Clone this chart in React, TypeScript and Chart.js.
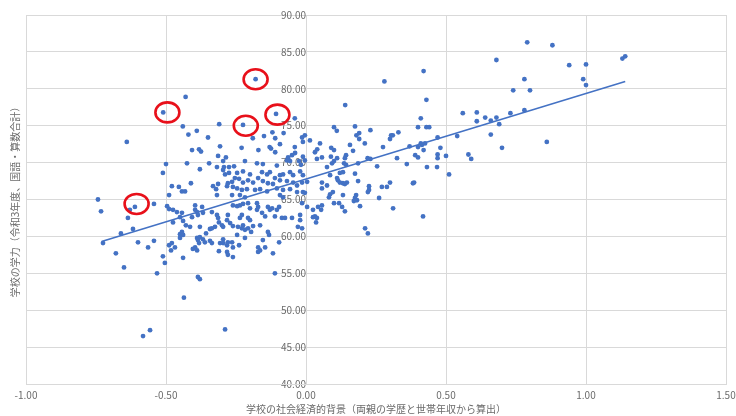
import React, { useEffect, useRef } from 'react';
import { Chart, registerables } from 'chart.js';

Chart.register(...registerables);

// 学校の社会経済的背景 (x) と 学校の学力 (y)
const sesX = [
  0.79, 0.88, 0.68, 1.13, 1.14, 0.94, 1.0, 0.42, 0.28, 0.78, 0.99, 1.0, -0.18, 0.74, 0.8, -0.43,
  0.43, 0.14, 0.56, 0.61, 0.64, 0.66, 0.68, 0.73, 0.78, 0.61, 0.69, 0.66, 0.54, 0.47, 0.41, 0.4,
  0.43, 0.44, 0.33, 0.31, 0.3, 0.23, 0.19, 0.175, 0.1, 0.11, 0.18, -0.51, -0.107, -0.225, -0.04, -0.44,
  -0.31, -0.42, -0.39, -0.35, -0.19, -0.15, -0.12, -0.11, -0.08, -0.014, -0.004, -0.64, 0.48, 0.41, 0.414, 0.425,
  0.4, 0.42, 0.37, 0.275, 0.21, 0.19, 0.157, 0.1, 0.09, 0.05, 0.04, 0.86, 0.7, 0.58, 0.59, 0.5,
  0.47, 0.47, 0.39, 0.4, 0.325, 0.36, 0.23, 0.22, 0.143, 0.139, 0.168, 0.057, 0.039, 0.136, 0.143, 0.186,
  0.254, 0.093, 0.1, 0.075, -0.23, -0.17, -0.13, -0.125, -0.093, -0.04, -0.011, -0.11, -0.064, -0.05, -0.039, -0.068,
  -0.057, -0.218, -0.175, -0.154, -0.104, -0.025, -0.018, -0.307, -0.407, -0.382, -0.375, -0.314, -0.286, -0.296, -0.5, -0.425,
  -0.346, -0.379, -0.318, -0.293, -0.275, -0.257, -0.296, -0.511, -0.289, -0.275, -0.254, -0.225, -0.246, -0.2, -0.157, -0.139,
  -0.129, -0.093, -0.082, -0.057, -0.046, -0.021, -0.011, -0.111, -0.093, -0.068, -0.239, -0.225, -0.207, -0.189, -0.171, -0.154,
  -0.136, -0.118, -0.046, -0.032, -0.014, -0.246, -0.229, -0.211, -0.182, -0.164, -0.139, -0.104, -0.082, -0.057, -0.032, -0.264,
  -0.236, -0.218, -0.093, -0.082, -0.279, -0.264, -0.261, -0.282, -0.332, -0.314, -0.321, -0.411, -0.479, -0.454, -0.443, -0.432,
  -0.489, -0.318, 0.057, 0.075, 0.111, 0.114, 0.121, 0.132, 0.146, 0.139, 0.186, 0.225, 0.225, 0.221, 0.271, 0.289,
  0.3, 0.382, 0.386, 0.511, 0.432, 0.468, 0.057, 0.086, 0.096, 0.082, 0.121, 0.132, 0.086, 0.132, 0.179, 0.175,
  0.171, 0.182, 0.261, -0.743, 0.1, 0.139, 0.193, 0.129, 0.118, 0.311, 0.418, 0.211, 0.221, 0.004, 0.025, 0.054,
  0.057, 0.036, 0.032, -0.014, 0.043, 0.025, -0.021, -0.029, -0.021, -0.261, -0.246, -0.236, -0.225, -0.207, -0.2, -0.175,
  -0.171, -0.175, -0.136, -0.129, -0.121, -0.157, -0.146, -0.104, -0.096, -0.111, -0.086, -0.075, -0.05, -0.229, -0.236, -0.207,
  -0.2, -0.271, -0.261, -0.243, -0.229, -0.225, -0.218, -0.207, -0.196, -0.189, -0.164, -0.246, -0.218, -0.154, -0.136, -0.132,
  -0.264, -0.261, -0.239, -0.171, -0.164, -0.171, -0.146, -0.096, -0.118, -0.261, -0.111, -0.543, -0.629, -0.618, -0.611, -0.496,
  -0.489, -0.475, -0.461, -0.443, -0.45, -0.475, -0.439, -0.429, -0.414, -0.407, -0.396, -0.389, -0.386, -0.371, -0.368, -0.396,
  -0.379, -0.343, -0.336, -0.318, -0.314, -0.311, -0.3, -0.296, -0.282, -0.279, -0.357, -0.336, -0.325, -0.732, -0.661, -0.725,
  -0.679, -0.65, -0.636, -0.6, -0.564, -0.543, -0.532, -0.511, -0.504, -0.582, -0.557, -0.489, -0.479, -0.468, -0.45, -0.443,
  -0.439, -0.45, -0.482, -0.389, -0.386, -0.382, -0.379, -0.368, -0.361, -0.396, -0.404, -0.389, -0.343, -0.336, -0.307, -0.296,
  -0.282, -0.279, -0.282, -0.311, -0.279, -0.439, -0.386, -0.379, -0.436, -0.289, 0.039, -0.296, 0.014, -0.011, -0.004, 0.004,
  -0.011, -0.004, -0.014, 0.032, 0.089, 0.111, 0.175, 0.304,
];

const scoreY = [
  86.3, 85.9, 83.9, 84.1, 84.4, 83.2, 83.3, 82.4, 81.0, 81.3, 81.3, 80.5, 81.3, 79.8, 79.8, 78.9,
  78.5, 77.8, 76.7, 76.8, 76.1, 75.7, 76.1, 76.7, 77.1, 75.6, 75.2, 73.8, 73.6, 73.4, 76.0, 74.8,
  74.8, 74.8, 74.1, 73.7, 73.2, 74.4, 74.0, 74.9, 74.8, 74.3, 73.7, 76.8, 76.6, 75.1, 76.0, 74.9,
  75.2, 73.8, 74.3, 73.4, 73.3, 73.6, 74.1, 73.3, 74.0, 73.4, 73.7, 72.8, 72.0, 72.6, 72.4, 72.6,
  72.1, 71.7, 72.2, 72.1, 72.6, 73.2, 72.4, 71.7, 72.0, 72.6, 71.8, 72.8, 72.0, 71.1, 70.5, 70.9,
  71.1, 70.6, 71.0, 70.7, 70.6, 69.8, 70.5, 70.6, 71.0, 70.6, 71.6, 70.7, 70.5, 69.9, 69.7, 69.9,
  69.5, 69.9, 70.2, 69.4, 72.0, 71.7, 72.1, 71.9, 72.5, 72.1, 72.8, 71.4, 70.7, 71.0, 71.3, 70.3,
  70.2, 70.2, 69.9, 69.8, 69.6, 70.2, 69.7, 72.2, 71.7, 71.8, 71.5, 70.9, 70.7, 70.2, 69.8, 69.9,
  69.9, 69.1, 69.4, 69.4, 69.4, 69.5, 69.0, 68.6, 68.4, 68.6, 67.9, 68.8, 68.6, 68.4, 68.7, 68.4,
  68.7, 68.3, 68.4, 68.7, 68.3, 68.8, 68.3, 67.9, 67.6, 67.5, 67.8, 67.3, 67.6, 67.3, 67.9, 67.5,
  67.2, 67.1, 67.3, 66.9, 67.3, 66.5, 66.3, 66.4, 66.3, 66.4, 66.1, 66.5, 66.3, 66.4, 66.0, 65.6,
  65.6, 65.3, 65.6, 65.3, 67.2, 67.4, 66.7, 66.8, 66.8, 67.1, 66.4, 67.2, 66.8, 66.7, 66.1, 66.1,
  65.6, 65.6, 67.3, 66.9, 67.9, 67.6, 67.3, 67.2, 67.3, 67.1, 67.5, 66.8, 66.3, 66.0, 66.7, 66.7,
  67.3, 67.2, 67.3, 68.4, 69.4, 69.4, 66.5, 65.7, 66.0, 65.3, 68.6, 68.7, 68.3, 65.6, 65.6, 65.2,
  64.8, 64.9, 65.2, 65.0, 64.5, 63.4, 64.1, 64.0, 64.5, 63.8, 62.7, 61.1, 60.4, 64.0, 63.6, 63.6,
  64.2, 61.9, 62.7, 64.5, 64.0, 62.6, 62.2, 61.3, 62.9, 64.2, 64.1, 64.2, 64.4, 64.5, 63.8, 64.5,
  64.0, 63.6, 64.0, 63.6, 63.8, 63.2, 62.7, 63.6, 64.0, 62.7, 62.5, 62.5, 62.5, 62.9, 62.5, 62.5,
  62.2, 61.8, 61.4, 61.3, 61.1, 61.5, 60.9, 61.1, 60.6, 61.4, 61.5, 60.2, 59.8, 59.5, 60.6, 60.2,
  59.2, 58.5, 58.8, 58.5, 58.1, 57.9, 58.5, 59.2, 57.7, 57.2, 55.0, 64.4, 63.6, 61.0, 64.0, 64.1,
  63.7, 63.6, 63.3, 63.2, 62.6, 61.9, 62.1, 61.5, 61.3, 62.6, 63.6, 63.3, 62.9, 64.0, 63.2, 64.2,
  61.3, 61.0, 63.3, 62.9, 62.5, 61.9, 61.5, 61.3, 62.2, 62.9, 60.4, 61.1, 61.3, 63.4, 60.4, 59.1,
  57.7, 55.8, 62.5, 59.2, 58.5, 59.4, 55.0, 57.3, 56.4, 46.5, 47.3, 58.8, 59.1, 58.5, 60.3, 60.6,
  60.2, 59.8, 58.1, 59.8, 59.5, 59.1, 59.9, 59.6, 59.2, 58.5, 58.3, 58.1, 59.4, 59.1, 59.1, 59.1,
  58.8, 59.2, 57.9, 58.0, 57.5, 57.1, 54.5, 54.2, 51.7, 47.4, 62.5, 59.6, 73.0, 70.8, 70.3, 67.4,
  66.0, 65.9, 61.1, 71.4, 70.8, 70.6, 68.5, 73.7,
];

// 近似直線（両端）
const trendX = [-0.73, 1.14];
const trendY = [59.3, 81.0];

// 赤丸で囲まれた学校
const circleX = [-0.18, -0.495, -0.102, -0.215, -0.605];
const circleY = [81.3, 76.8, 76.5, 75.0, 64.4];

const xMin = -1.0;
const xMax = 1.5;
const xStep = 0.5;
const yMin = 40;
const yMax = 90;
const yStep = 5;

const xTitle = '学校の社会経済的背景（両親の学歴と世帯年収から算出）';
const yTitle = '学校の学力（令和3年度、国語・算数合計）';

const FONT = '"Noto Sans CJK JP", "Noto Sans", sans-serif';
const TEXT = '#6b6b6b';
const GRID = '#d9d9d9';
const BLUE = '#4472C4';

const circlePlugin = {
  id: 'redCircles',
  afterDatasetsDraw(chart: any) {
    const { ctx, scales } = chart;
    const xs = scales.x;
    const ys = scales.y;
    ctx.save();
    ctx.strokeStyle = '#e8101a';
    ctx.lineWidth = 2.6;
    for (let i = 0; i < circleX.length; i++) {
      const cx = xs.getPixelForValue(circleX[i]);
      const cy = ys.getPixelForValue(circleY[i]);
      ctx.beginPath();
      ctx.ellipse(cx, cy, 12, 10, 0, 0, Math.PI * 2);
      ctx.stroke();
    }
    ctx.restore();
  },
};

export default function App() {
  const ref = useRef<HTMLCanvasElement>(null);

  useEffect(() => {
    if (!ref.current) return;
    const points = sesX.map((x, i) => ({ x, y: scoreY[i] }));
    const trend = trendX.map((x, i) => ({ x, y: trendY[i] }));
    const chart = new Chart(ref.current, {
      type: 'scatter',
      data: {
        datasets: [
          {
            label: 'trend',
            data: trend,
            showLine: true,
            borderColor: BLUE,
            borderWidth: 1.6,
            pointRadius: 0,
            yAxisID: 'y',
            xAxisID: 'x',
            order: 0,
          },
          {
            label: 'schools',
            data: points,
            backgroundColor: BLUE,
            borderWidth: 0,
            pointRadius: 2.4,
            yAxisID: 'y',
            xAxisID: 'x',
            order: 1,
          },
        ],
      },
      options: {
        responsive: false,
        animation: false,
        events: [],
        layout: { padding: { left: 0, right: 10, top: 15, bottom: 0 } },
        plugins: {
          legend: { display: false },
          tooltip: { enabled: false },
        },
        scales: {
          y: {
            type: 'linear',
            position: { x: 0 } as any,
            min: yMin,
            max: yMax,
            ticks: {
              stepSize: yStep,
              padding: 3,
              color: TEXT,
              font: { family: FONT, size: 10 },
              callback: (v: any) => Number(v).toFixed(2),
            },
            grid: { color: GRID, lineWidth: 1, drawTicks: false },
            border: { display: true, color: GRID },
          },
          x: {
            type: 'linear',
            position: 'bottom',
            min: xMin,
            max: xMax,
            ticks: {
              stepSize: xStep,
              padding: 5,
              color: TEXT,
              font: { family: FONT, size: 10 },
              maxRotation: 0,
              callback: (v: any) => Number(v).toFixed(2),
            },
            grid: { color: GRID, lineWidth: 1, drawTicks: false },
            border: { display: true, color: GRID },
            title: {
              display: true,
              text: xTitle,
              color: TEXT,
              font: { family: FONT, size: 10 },
              padding: { top: 0, bottom: 1 },
            },
            afterFit: (s: any) => {
              s.height = 32;
              s.paddingLeft = 0;
              s.paddingRight = 0;
            },
          },
          y2: {
            type: 'linear',
            position: 'left',
            display: true,
            ticks: { display: false },
            grid: { display: false },
            border: { display: false },
            title: {
              display: true,
              text: yTitle,
              color: TEXT,
              font: { family: FONT, size: 10 },
              padding: { top: 9, bottom: 0 },
            },
            afterFit: (s: any) => {
              s.width = 26;
            },
          },
        },
      },
      plugins: [circlePlugin],
    } as any);
    return () => chart.destroy();
  }, []);

  return (
    <canvas
      ref={ref}
      width={736}
      height={416}
      style={{ position: 'fixed', left: 0, top: 0, width: 736, height: 416, display: 'block', background: '#fff' }}
    />
  );
}
